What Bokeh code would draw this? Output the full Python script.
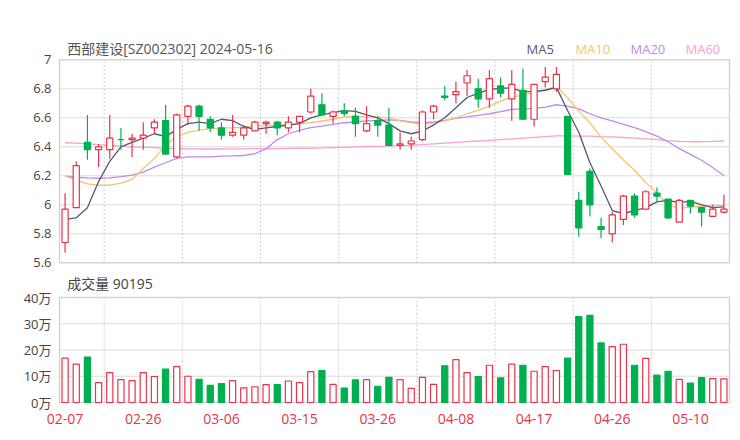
from bokeh.plotting import figure
from bokeh.models import Range1d, FixedTicker, NumeralTickFormatter
from bokeh.core.properties import value
from bokeh.layouts import column
from bokeh.embed import file_html
from bokeh.resources import INLINE

# ---------------- data ----------------
stock_title = "西部建设[SZ002302] 2024-05-16"
dates = ["02-07", "02-08", "02-19", "02-20", "02-21", "02-22", "02-23", "02-26", "02-27", "02-28",
         "02-29", "03-01", "03-04", "03-05", "03-06", "03-07", "03-08", "03-11", "03-12", "03-13",
         "03-14", "03-15", "03-18", "03-19", "03-20", "03-21", "03-22", "03-25", "03-26", "03-27",
         "03-28", "03-29", "04-01", "04-02", "04-03", "04-08", "04-09", "04-10", "04-11", "04-12",
         "04-15", "04-16", "04-17", "04-18", "04-19", "04-22", "04-23", "04-24", "04-25", "04-26",
         "04-29", "04-30", "05-06", "05-07", "05-08", "05-09", "05-10", "05-13", "05-14", "05-16"]
tick_dates = ["02-07", "02-26", "03-06", "03-15", "03-26", "04-08", "04-17", "04-26", "05-10"]

open_ = [5.74, 5.98, 6.43, 6.38, 6.38, 6.45, 6.45, 6.46, 6.53, 6.58,
         6.33, 6.61, 6.68, 6.59, 6.53, 6.48, 6.48, 6.51, 6.56, 6.57,
         6.53, 6.57, 6.64, 6.69, 6.61, 6.65, 6.61, 6.51, 6.58, 6.55,
         6.41, 6.42, 6.45, 6.64, 6.75, 6.76, 6.84, 6.80, 6.73, 6.82,
         6.73, 6.79, 6.59, 6.85, 6.80, 6.61, 6.03, 6.23, 5.85, 5.80,
         5.90, 6.06, 5.97, 6.08, 6.04, 5.88, 6.03, 5.98, 5.92, 5.95]
high = [6.08, 6.30, 6.62, 6.42, 6.62, 6.53, 6.49, 6.57, 6.59, 6.69,
        6.63, 6.69, 6.69, 6.61, 6.57, 6.62, 6.55, 6.58, 6.58, 6.58,
        6.61, 6.61, 6.80, 6.77, 6.65, 6.70, 6.67, 6.68, 6.61, 6.67,
        6.50, 6.47, 6.65, 6.69, 6.82, 6.85, 6.93, 6.87, 6.93, 6.88,
        6.93, 6.94, 6.83, 6.95, 6.95, 6.61, 6.09, 6.25, 5.91, 5.95,
        6.07, 6.08, 6.10, 6.12, 6.04, 6.04, 6.03, 5.98, 6.00, 6.07]
low = [5.67, 5.98, 6.31, 6.26, 6.32, 6.38, 6.33, 6.38, 6.49, 6.35,
       6.32, 6.55, 6.51, 6.50, 6.45, 6.47, 6.45, 6.51, 6.49, 6.48,
       6.50, 6.50, 6.63, 6.62, 6.56, 6.61, 6.47, 6.50, 6.47, 6.41,
       6.38, 6.38, 6.44, 6.59, 6.72, 6.70, 6.75, 6.67, 6.67, 6.74,
       6.58, 6.59, 6.54, 6.81, 6.78, 6.21, 5.78, 5.92, 5.77, 5.74,
       5.86, 5.91, 5.97, 6.02, 5.90, 5.88, 5.94, 5.85, 5.92, 5.94]
close = [5.97, 6.27, 6.38, 6.40, 6.46, 6.45, 6.46, 6.48, 6.57, 6.35,
         6.62, 6.68, 6.61, 6.53, 6.48, 6.50, 6.53, 6.57, 6.57, 6.53,
         6.57, 6.61, 6.75, 6.62, 6.64, 6.63, 6.56, 6.56, 6.55, 6.41,
         6.42, 6.44, 6.64, 6.68, 6.74, 6.78, 6.89, 6.73, 6.87, 6.77,
         6.83, 6.59, 6.83, 6.88, 6.90, 6.21, 5.84, 6.00, 5.83, 5.93,
         6.06, 5.93, 6.09, 6.06, 5.91, 6.03, 5.99, 5.95, 5.97, 5.97]
volume = [169000, 146000, 173000, 76000, 114000, 87000, 83000, 114000, 99000, 127000,
          137000, 100000, 88000, 65000, 72000, 83000, 56000, 60000, 68000, 68000,
          82000, 76000, 118000, 122000, 69000, 55000, 86000, 87000, 62000, 96000,
          87000, 54000, 96000, 69000, 140000, 163000, 114000, 99000, 142000, 94000,
          146000, 142000, 119000, 137000, 122000, 169000, 327000, 332000, 227000, 213000,
          222000, 142000, 168000, 104000, 119000, 88000, 74000, 95000, 91000, 90195]
ma5 = [5.90, 5.91, 5.98, 6.16, 6.30, 6.40, 6.43, 6.46, 6.49, 6.47,
       6.52, 6.56, 6.57, 6.56, 6.59, 6.58, 6.54, 6.52, 6.53, 6.54,
       6.55, 6.56, 6.60, 6.62, 6.635, 6.65, 6.645, 6.62, 6.60, 6.56,
       6.51, 6.49, 6.51, 6.55, 6.60, 6.67, 6.74, 6.77, 6.795, 6.805,
       6.805, 6.78, 6.78, 6.79, 6.81, 6.65, 6.50, 6.29, 6.13, 5.96,
       5.94, 5.96, 5.98, 6.02, 6.03, 6.015, 6.025, 6.00, 5.98, 5.985]
ma10 = [6.20, 6.17, 6.145, 6.135, 6.135, 6.15, 6.175, 6.25, 6.32, 6.41,
        6.47, 6.50, 6.515, 6.525, 6.53, 6.53, 6.535, 6.543, 6.548, 6.55,
        6.555, 6.56, 6.566, 6.578, 6.59, 6.605, 6.612, 6.605, 6.605, 6.60,
        6.578, 6.566, 6.555, 6.56, 6.578, 6.60, 6.628, 6.651, 6.68, 6.715,
        6.743, 6.756, 6.772, 6.795, 6.815, 6.738, 6.646, 6.566, 6.467, 6.387,
        6.307, 6.238, 6.153, 6.084, 5.997, 5.975, 5.984, 5.99, 5.995, 5.997]
ma20 = [6.197, 6.19, 6.186, 6.183, 6.186, 6.195, 6.205, 6.225, 6.26, 6.29,
        6.32, 6.33, 6.33, 6.33, 6.335, 6.337, 6.34, 6.353, 6.385, 6.45,
        6.49, 6.513, 6.532, 6.543, 6.555, 6.566, 6.571, 6.578, 6.582, 6.585,
        6.582, 6.571, 6.566, 6.571, 6.582, 6.596, 6.607, 6.617, 6.628, 6.642,
        6.658, 6.662, 6.665, 6.674, 6.69, 6.68, 6.662, 6.628, 6.60, 6.578,
        6.555, 6.532, 6.504, 6.474, 6.435, 6.387, 6.348, 6.307, 6.257, 6.20]
ma60 = [6.428, 6.425, 6.42, 6.415, 6.41, 6.405, 6.40, 6.398, 6.395, 6.39,
        6.388, 6.386, 6.385, 6.385, 6.385, 6.386, 6.386, 6.387, 6.388, 6.388,
        6.389, 6.39, 6.39, 6.392, 6.395, 6.397, 6.40, 6.402, 6.403, 6.405,
        6.408, 6.41, 6.415, 6.42, 6.425, 6.43, 6.435, 6.44, 6.445, 6.45,
        6.455, 6.46, 6.465, 6.47, 6.475, 6.475, 6.474, 6.473, 6.47, 6.468,
        6.464, 6.46, 6.455, 6.45, 6.443, 6.438, 6.435, 6.435, 6.437, 6.44]
price_ticks = [5.6, 5.8, 6.0, 6.2, 6.4, 6.6, 6.8, 7.0]
vol_ticks = [0, 100000, 200000, 300000, 400000]
ma_names = ["MA5", "MA10", "MA20", "MA60"]

# ---------------- style / geometry (pixels) ----------------
RED = "#e8334a"
GREEN = "#00b050"
MA_COLORS = ["#55557a", "#f8c36c", "#bf8be8", "#f7a3cb"]
FONT = "'Open Sans', 'Noto Sans CJK SC'"
GRID = "#dcdcdc"
BORDER = "#d4d4d4"

n = len(close)
idx = list(range(n))
PX_X = 670 / n                 # pixels per candle
PAD = 2                        # pixels of frame beyond the drawn box
x_lo, x_hi = -0.5, n - 0.5
xr = (x_lo - PAD / PX_X, x_hi + PAD / PX_X)

P_LO, P_HI = price_ticks[0], price_ticks[-1]
PX_P = 203 / (P_HI - P_LO)     # pixels per price unit
V_LO, V_HI = vol_ticks[0], vol_ticks[-1]
PX_V = 105 / (V_HI - V_LO)     # pixels per share

cand_up = [c > o for o, c in zip(open_, close)]
vol_up = [c >= o for o, c in zip(open_, close)]
tick_idx = [i for i, d in enumerate(dates) if d in tick_dates]
vgrid = [t + 3.5 for t in tick_idx[:-1]]


def base(height, top, bottom, yr):
    p = figure(width=736, height=height, output_backend="svg", toolbar_location=None,
               x_range=Range1d(*xr), y_range=Range1d(*yr),
               min_border_left=57, min_border_right=5, min_border_top=top,
               min_border_bottom=bottom)
    p.outline_line_color = None
    p.xgrid.visible = False
    p.ygrid.visible = False
    for ax in (p.xaxis[0], p.yaxis[0]):
        ax.axis_line_color = None
        ax.major_tick_line_color = None
        ax.minor_tick_line_color = None
        ax.major_tick_out = 0
        ax.major_tick_in = 0
        ax.minor_tick_out = 0
        ax.major_label_text_font = FONT
    p.yaxis.major_label_text_font_size = "13px"
    p.yaxis.major_label_text_color = "#444444"
    p.yaxis.major_label_standoff = 6
    return p


def frame_box(p, y0, y1, hticks):
    inner = [t for t in hticks if y0 < t < y1]
    p.segment(x0=[x_lo] * len(inner), x1=[x_hi] * len(inner), y0=inner, y1=inner,
              line_color=GRID, line_width=1)
    p.segment(x0=vgrid, x1=vgrid, y0=[y0] * len(vgrid), y1=[y1] * len(vgrid),
              line_color="#cccccc", line_width=1, line_dash="2 2")
    p.quad(left=[x_lo], right=[x_hi], bottom=[y0], top=[y1], fill_color=None,
           line_color=BORDER, line_width=1.5)


# ---------------- price panel ----------------
# frame spans page y 30..265; drawn box spans 59.3..262.3
yr1 = (P_LO - 2.7 / PX_P, P_HI + 29.3 / PX_P)
p1 = base(270, 30, 5, yr1)
p1.xaxis.visible = False
p1.yaxis.ticker = FixedTicker(ticks=price_ticks)
p1.yaxis.formatter = NumeralTickFormatter(format="0.[0]")
frame_box(p1, P_LO, P_HI, price_ticks)

for vals, col in zip([ma60, ma20, ma10, ma5], MA_COLORS[::-1]):
    p1.line(idx, vals, line_color=col, line_width=1.3)

ccol = [RED if u else GREEN for u in cand_up]
cfill = ["white" if u else GREEN for u in cand_up]
p1.segment(x0=idx, y0=high, x1=idx, y1=low, line_color=ccol, line_width=1.2)
p1.vbar(x=idx, width=0.55, top=[max(o, c) for o, c in zip(open_, close)],
        bottom=[min(o, c) for o, c in zip(open_, close)],
        fill_color=cfill, line_color=ccol, line_width=1.2)

ty = P_HI + 11 / PX_P
p1.text(x=[x_lo + 7.7 / PX_X], y=[ty], text=[stock_title], text_color="#555555",
        text_font=value(FONT), text_font_size="14px", text_baseline="middle",
        text_align="left")
leg_px = [467, 516, 571, 626]
p1.text(x=[x_lo + v / PX_X for v in leg_px], y=[ty] * 4, text=ma_names, text_color=MA_COLORS,
        text_font=value(FONT), text_font_size="13px", text_baseline="middle",
        text_align="left")

# ---------------- volume panel ----------------
# frame spans page y 272..404; drawn box spans 297..402
yr2 = (V_LO - 2 / PX_V, V_HI + 25 / PX_V)
p2 = base(162, 2, 28, yr2)
p2.yaxis.ticker = FixedTicker(ticks=vol_ticks)
p2.yaxis.major_label_overrides = {t: f"{t // 10000}万" for t in vol_ticks}
p2.xaxis.ticker = FixedTicker(ticks=tick_idx)
p2.xaxis.major_label_overrides = {i: dates[i] for i in tick_idx}
p2.xaxis.major_label_text_color = RED
p2.xaxis.major_label_text_font_size = "14px"
p2.xaxis.major_label_standoff = 9
frame_box(p2, V_LO, V_HI, vol_ticks)

vcol = [RED if u else GREEN for u in vol_up]
vfill = ["white" if u else GREEN for u in vol_up]
p2.vbar(x=idx, width=0.55, top=volume, bottom=0, fill_color=vfill, line_color=vcol,
        line_width=1.2)
p2.text(x=[x_lo + 7.7 / PX_X], y=[V_HI + 14 / PX_V], text=[f"成交量 {volume[-1]}"],
        text_color="#444444", text_font=value(FONT), text_font_size="14px",
        text_baseline="middle", text_align="left")

layout = column(p1, p2, spacing=0)
open("out.html", "w").write(file_html(layout, INLINE))
